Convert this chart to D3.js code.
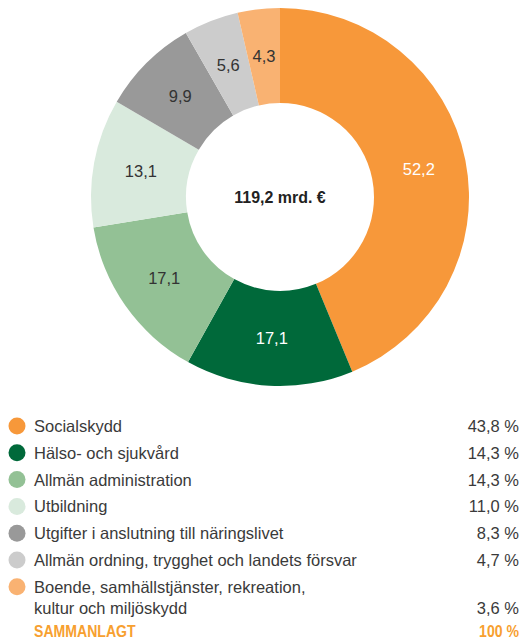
<!DOCTYPE html>
<html lang="sv">
<head>
<meta charset="UTF-8">
<title>Offentliga utgifter</title>
<script src="https://d3js.org/d3.v7.min.js"></script>
<style>
  body { margin: 0; background: #fff; }
  svg { display: block; font-family: "Liberation Sans", Arial, sans-serif; }
</style>
</head>
<body>
<div id="chart"></div>
<script>
// data, in pie order clockwise from 12 o'clock
const categories = [
  "Socialskydd",
  "Hälso- och sjukvård",
  "Allmän administration",
  "Utbildning",
  "Utgifter i anslutning till näringslivet",
  "Allmän ordning, trygghet och landets försvar",
  "Boende, samhällstjänster, rekreation,|kultur och miljöskydd"
];
const values = [52.2, 17.1, 17.1, 13.1, 9.9, 5.6, 4.3];
const shares = ["43,8 %", "14,3 %", "14,3 %", "11,0 %", "8,3 %", "4,7 %", "3,6 %"];
const colors = ["#f7983a", "#00693a", "#93c195", "#d9eadd", "#999999", "#cccccc", "#f9b272"];
const labelColors = ["#fff", "#fff", "#333", "#333", "#333", "#333", "#333"];
const totalLabel = "119,2 mrd. €";
const totalRow = ["SAMMANLAGT", "100 %"];

const width = 524, height = 642;
const cx = 280, cy = 197;
const outerR = 189, innerR = 94;

const svg = d3.select("#chart").append("svg")
  .attr("width", width)
  .attr("height", height);

const pie = d3.pie().sort(null).value(d => d);
const arc = d3.arc().innerRadius(innerR).outerRadius(outerR);
const arcs = pie(values);

const g = svg.append("g").attr("transform", `translate(${cx},${cy})`);

g.selectAll("path")
  .data(arcs)
  .enter().append("path")
  .attr("d", arc)
  .attr("fill", (d, i) => colors[i]);

const fmt = v => v.toFixed(1).replace(".", ",");

g.selectAll("text.val")
  .data(arcs)
  .enter().append("text")
  .attr("class", "val")
  .attr("transform", d => `translate(${arc.centroid(d)})`)
  .attr("text-anchor", "middle")
  .attr("dy", "0.35em")
  .style("font-size", "16.5px")
  .style("fill", (d, i) => labelColors[i])
  .text(d => fmt(d.data));

// centre total, narrow bold
g.append("text")
  .attr("text-anchor", "middle")
  .attr("transform", "translate(0,6) scale(0.94,1)")
  .style("font-size", "17px")
  .style("font-weight", "bold")
  .style("fill", "#222")
  .text(totalLabel);

// legend
const rowY = d3.scaleLinear().domain([0, 1]).range([426, 452.8]);
const legend = svg.append("g");

categories.forEach((c, i) => {
  const y = rowY(i);
  const lines = c.split("|");
  legend.append("circle")
    .attr("cx", 17).attr("cy", y).attr("r", 8.5)
    .attr("fill", colors[i]);
  lines.forEach((ln, j) => {
    legend.append("text")
      .attr("x", 34).attr("y", y + 6 + j * 21)
      .style("font-size", "16.5px")
      .style("fill", "#3a3a3a")
      .text(ln);
  });
  legend.append("text")
    .attr("x", 519).attr("y", y + 6 + (lines.length - 1) * 21)
    .attr("text-anchor", "end")
    .style("font-size", "16.5px")
    .style("fill", "#3a3a3a")
    .text(shares[i]);
});

const totY = rowY(categories.length - 1) + 6 + 21 + 23;
legend.append("text")
  .attr("transform", `translate(34,${totY}) scale(0.88,1)`)
  .style("font-size", "16px")
  .style("font-weight", "bold")
  .style("fill", "#f7a030")
  .text(totalRow[0]);
legend.append("text")
  .attr("transform", `translate(519,${totY}) scale(0.88,1)`)
  .attr("text-anchor", "end")
  .style("font-size", "16px")
  .style("font-weight", "bold")
  .style("fill", "#f7a030")
  .text(totalRow[1]);
</script>
</body>
</html>
